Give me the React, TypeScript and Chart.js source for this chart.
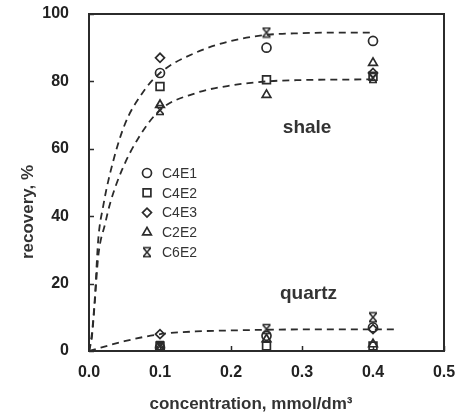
import React, { useEffect, useRef } from 'react';
import { Chart, registerables } from 'chart.js';
import { drawPoint } from 'chart.js/helpers';

Chart.register(...registerables);

// ---- data ----
const seriesNames = ['C4E1', 'C4E2', 'C4E3', 'C2E2', 'C6E2'];
const concentrations = [0.1, 0.25, 0.4];

const shaleC4E1 = [82.5, 90, 92];
const shaleC4E2 = [78.5, 80.5, 81.5];
const shaleC4E3 = [87, null, 82.5];
const shaleC2E2 = [73, 76, 85.5];
const shaleC6E2 = [71.5, 94.5, 81];

const quartzC4E1 = [1, 4.5, 7];
const quartzC4E2 = [1.5, 1.5, 1.5];
const quartzC4E3 = [5, null, 6.5];
const quartzC2E2 = [1, 3.5, 2];
const quartzC6E2 = [1.5, 6.5, 10];

// dashed fit curves
const shaleUpperX = [0, 0.004, 0.008, 0.013, 0.02, 0.03, 0.05, 0.075, 0.1, 0.15, 0.2, 0.25, 0.3, 0.35, 0.4];
const shaleUpperY = [0, 5, 15, 33, 43, 53, 67, 76.5, 82.5, 88.5, 92, 93.8, 94.3, 94.5, 94.5];
const shaleLowerX = [0, 0.004, 0.008, 0.013, 0.023, 0.03, 0.046, 0.069, 0.1, 0.15, 0.2, 0.25, 0.3, 0.4];
const shaleLowerY = [0, 4, 14, 28, 38, 44, 53.5, 63, 71.5, 76.5, 78.8, 80, 80.4, 80.6];
const quartzX = [0, 0.05, 0.1, 0.15, 0.2, 0.25, 0.3, 0.43];
const quartzY = [0, 2.9, 5.0, 5.8, 6.1, 6.3, 6.4, 6.4];

const xTicks = [0, 0.1, 0.2, 0.3, 0.4, 0.5];
const yTicks = [0, 20, 40, 60, 80, 100];

const INK = '#2b2b2b';

function makeStar(): HTMLCanvasElement {
  const c = document.createElement('canvas');
  c.width = 12;
  c.height = 12;
  const g = c.getContext('2d')!;
  g.strokeStyle = INK;
  g.lineWidth = 1.6;
  g.beginPath();
  g.moveTo(2.5, 2); g.lineTo(9.5, 10);
  g.moveTo(9.5, 2); g.lineTo(2.5, 10);
  g.moveTo(2, 1.5); g.lineTo(10, 1.5);
  g.moveTo(2, 10.5); g.lineTo(10, 10.5);
  g.stroke();
  return c;
}

function pts(a: (number | null)[], b: (number | null)[]) {
  const out: { x: number; y: number }[] = [];
  concentrations.forEach((c, i) => { if (a[i] != null) out.push({ x: c, y: a[i] as number }); });
  concentrations.forEach((c, i) => { if (b[i] != null) out.push({ x: c, y: b[i] as number }); });
  return out;
}

function curve(xs: number[], ys: number[]) {
  return xs.map((x, i) => ({ x, y: ys[i] }));
}

function zeroPad(s: any) {
  s.paddingTop = 0;
  s.paddingBottom = 0;
  s.paddingLeft = 0;
  s.paddingRight = 0;
}

export default function App() {
  const ref = useRef<HTMLCanvasElement>(null);

  useEffect(() => {
    const star = makeStar();
    const styles: any[] = ['circle', 'rect', 'rectRot', 'triangle', star];
    const radii = [4.5, 5.5, 4.5, 5, 6];
    const shale = [shaleC4E1, shaleC4E2, shaleC4E3, shaleC2E2, shaleC6E2];
    const quartz = [quartzC4E1, quartzC4E2, quartzC4E3, quartzC2E2, quartzC6E2];

    const lineDs = (data: any) => ({
      type: 'line' as const,
      data,
      borderColor: INK,
      borderWidth: 1.8,
      borderDash: [7, 5],
      pointRadius: 0,
      cubicInterpolationMode: 'monotone' as const,
      fill: false,
    });

    const scatterDs = seriesNames.map((name, i) => ({
      type: 'scatter' as const,
      label: name,
      data: pts(shale[i], quartz[i]),
      pointStyle: styles[i],
      pointRadius: radii[i],
      pointBorderWidth: 1.7,
      pointBorderColor: INK,
      pointBackgroundColor: 'rgba(0,0,0,0)',
      showLine: false,
    }));

    const overlay = {
      id: 'overlay',
      afterDraw(chart: any) {
        const { ctx, chartArea: ca, scales } = chart;
        const xs = scales.x;
        const ys = scales.y;
        ctx.save();
        ctx.strokeStyle = INK;
        ctx.lineWidth = 1.5;
        ctx.beginPath();
        xTicks.forEach((v) => {
          const px = Math.round(xs.getPixelForValue(v)) + 0.5;
          ctx.moveTo(px, ca.bottom);
          ctx.lineTo(px, ca.bottom - 5);
        });
        yTicks.forEach((v) => {
          const py = Math.round(ys.getPixelForValue(v)) + 0.5;
          ctx.moveTo(ca.left, py);
          ctx.lineTo(ca.left + 5, py);
        });
        ctx.stroke();
        ctx.lineWidth = 2;
        ctx.strokeRect(ca.left, ca.top, ca.right - ca.left, ca.bottom - ca.top);

        ctx.fillStyle = '#333';
        ctx.textAlign = 'left';
        ctx.textBaseline = 'alphabetic';
        ctx.font = 'bold 19px "Liberation Sans", Arial, sans-serif';
        ctx.fillText('shale', xs.getPixelForValue(0.273), ys.getPixelForValue(64.7));
        ctx.fillText('quartz', xs.getPixelForValue(0.269), ys.getPixelForValue(15.4));

        // legend
        ctx.font = '14px "Liberation Sans", Arial, sans-serif';
        ctx.textBaseline = 'middle';
        seriesNames.forEach((name, i) => {
          const y = 173 + i * 19.8;
          ctx.strokeStyle = INK;
          ctx.fillStyle = 'rgba(0,0,0,0)';
          ctx.lineWidth = 1.7;
          drawPoint(ctx, { pointStyle: styles[i], radius: radii[i], rotation: 0, borderWidth: 1.7 } as any, 147, y);
          ctx.fillStyle = '#333';
          ctx.fillText(name, 162, y + 1);
        });

        // axis titles
        ctx.fillStyle = '#333';
        ctx.font = 'bold 17px "Liberation Sans", Arial, sans-serif';
        ctx.textAlign = 'center';
        ctx.textBaseline = 'alphabetic';
        ctx.fillText('concentration, mmol/dm³', 251, 409);
        ctx.save();
        ctx.translate(33, 212);
        ctx.rotate(-Math.PI / 2);
        ctx.fillText('recovery, %', 0, 0);
        ctx.restore();
        ctx.restore();
      },
    };

    const chart = new Chart(ref.current!, {
      type: 'scatter',
      data: {
        datasets: [
          lineDs(curve(shaleUpperX, shaleUpperY)),
          lineDs(curve(shaleLowerX, shaleLowerY)),
          lineDs(curve(quartzX, quartzY)),
          ...scatterDs,
        ] as any,
      },
      options: {
        responsive: false,
        animation: false,
        layout: { padding: { top: 14, right: 14, left: 0, bottom: 0 } },
        plugins: { legend: { display: false }, tooltip: { enabled: false } },
        scales: {
          x: {
            type: 'linear',
            min: 0,
            max: 0.5,
            afterFit: (s: any) => { s.height = 65; zeroPad(s); },
            afterBuildTicks: (s: any) => { s.ticks = xTicks.map((v) => ({ value: v })); },
            grid: { display: false, drawTicks: false },
            border: { display: false },
            ticks: {
              padding: 12,
              color: '#222',
              font: { family: '"Liberation Sans", Arial, sans-serif', size: 16, weight: 'bold' },
              callback: (v: any) => Number(v).toFixed(1),
            },
          },
          y: {
            type: 'linear',
            min: 0,
            max: 100,
            afterFit: (s: any) => { s.width = 89; zeroPad(s); },
            afterBuildTicks: (s: any) => { s.ticks = yTicks.map((v) => ({ value: v })); },
            grid: { display: false, drawTicks: false },
            border: { display: false },
            ticks: {
              padding: 20,
              color: '#222',
              font: { family: '"Liberation Sans", Arial, sans-serif', size: 16, weight: 'bold' },
              callback: (v: any) => String(v),
            },
          },
        },
      },
      plugins: [overlay],
    });
    return () => chart.destroy();
  }, []);

  return (
    <div style={{ position: 'absolute', left: 0, top: 0, width: 458, height: 416, background: '#fff' }}>
      <canvas ref={ref} width={458} height={416} style={{ display: 'block' }} />
    </div>
  );
}
